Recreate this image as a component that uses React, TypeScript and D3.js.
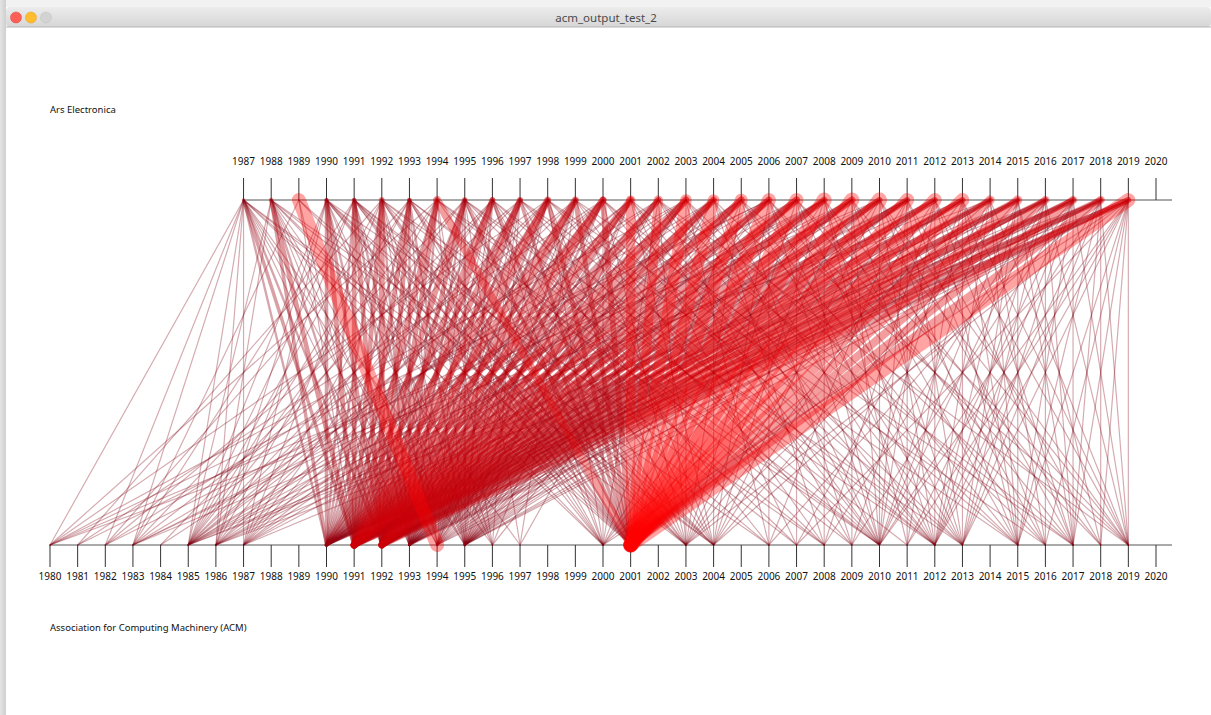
import React from "react";
import * as d3 from "d3";

const windowTitle = "acm_output_test_2";
const topLabel = "Ars Electronica";
const bottomLabel = "Association for Computing Machinery (ACM)";

const topYears = [1987,1988,1989,1990,1991,1992,1993,1994,1995,1996,1997,1998,1999,2000,2001,2002,2003,2004,2005,2006,2007,2008,2009,2010,2011,2012,2013,2014,2015,2016,2017,2018,2019,2020];
const bottomYears = [1980,1981,1982,1983,1984,1985,1986,1987,1988,1989,1990,1991,1992,1993,1994,1995,1996,1997,1998,1999,2000,2001,2002,2003,2004,2005,2006,2007,2008,2009,2010,2011,2012,2013,2014,2015,2016,2017,2018,2019,2020];

// [Ars Electronica year, [[ACM year, weight], ...]]
const linkGroups: [number, [number, number][]][] = [
  [1987, [[1980,1],[1982,1],[1983,1],[1985,1],[1986,1],[1987,1],[1990,2],[1991,3],[1992,2],[1993,1],[1994,1],[1995,1],[1996,1],[2000,1],[2001,1],[2003,1],[2004,1]]],
  [1988, [[1985,1],[1986,1],[1990,3],[1991,4],[1992,2],[1993,1],[1994,1],[1995,1],[1997,1],[2000,1],[2001,1],[2004,1],[2006,1]]],
  [1989, [[1983,1],[1991,1],[1992,1],[1994,12],[2001,1],[2003,1]]],
  [1990, [[1985,1],[1986,1],[1987,1],[1990,3],[1991,4],[1992,3],[1993,2],[1995,1],[1996,1],[2000,1],[2001,2],[2003,1],[2004,1],[2008,1]]],
  [1991, [[1983,1],[1985,1],[1986,1],[1990,2],[1991,4],[1992,4],[1993,2],[1994,2],[1995,1],[2000,1],[2001,2],[2003,1],[2004,1],[2006,1],[2007,1]]],
  [1992, [[1981,1],[1985,1],[1987,1],[1990,2],[1991,4],[1992,5],[1993,2],[1994,1],[1995,1],[1996,1],[2000,1],[2001,2],[2004,1],[2008,1],[2010,1]]],
  [1993, [[1982,1],[1985,1],[1986,1],[1990,2],[1991,4],[1992,4],[1993,2],[1994,1],[1995,2],[2000,1],[2001,2],[2003,1],[2009,1],[2010,1]]],
  [1994, [[1980,1],[1985,1],[1987,1],[1990,2],[1991,5],[1992,4],[1993,2],[1995,1],[1996,1],[2001,7],[2003,1],[2007,1],[2010,1],[2012,1]]],
  [1995, [[1983,1],[1985,1],[1990,2],[1991,5],[1992,4],[1993,2],[1994,1],[1995,2],[1997,1],[2000,1],[2001,3],[2004,1],[2008,1],[2011,1],[2013,1]]],
  [1996, [[1984,1],[1986,1],[1987,1],[1990,2],[1991,5],[1992,5],[1993,1],[1994,1],[1995,2],[2000,1],[2001,3],[2003,1],[2006,1],[2010,1],[2012,1]]],
  [1997, [[1982,1],[1985,1],[1990,3],[1991,5],[1992,5],[1993,2],[1994,1],[1995,1],[1996,1],[2001,3],[2004,1],[2009,1],[2012,1],[2015,1]]],
  [1998, [[1980,1],[1985,1],[1987,1],[1990,3],[1991,6],[1992,5],[1993,2],[1994,2],[1995,1],[2000,1],[2001,4],[2003,1],[2010,1],[2013,1],[2016,1]]],
  [1999, [[1983,1],[1986,1],[1990,2],[1991,6],[1992,5],[1993,2],[1994,1],[1995,2],[1997,1],[2001,4],[2004,1],[2008,1],[2012,1],[2017,1]]],
  [2000, [[1981,1],[1985,1],[1987,1],[1990,3],[1991,6],[1992,6],[1993,2],[1994,2],[1995,1],[2000,1],[2001,5],[2003,1],[2010,1],[2013,1],[2015,1]]],
  [2001, [[1985,1],[1986,1],[1990,2],[1991,6],[1992,5],[1993,2],[1995,2],[1996,1],[2001,8],[2004,1],[2007,1],[2010,1],[2012,1],[2017,1]]],
  [2002, [[1982,1],[1985,1],[1990,2],[1991,5],[1992,5],[1993,1],[1994,1],[1995,1],[2000,1],[2001,8],[2003,1],[2009,1],[2012,1],[2015,1],[2019,1]]],
  [2003, [[1980,1],[1984,1],[1987,1],[1990,2],[1991,6],[1992,6],[1993,2],[1994,2],[1995,1],[2001,10],[2003,1],[2006,1],[2010,1],[2013,1],[2016,1]]],
  [2004, [[1983,1],[1986,1],[1990,3],[1991,6],[1992,5],[1993,2],[1995,2],[1997,1],[2001,10],[2004,1],[2008,1],[2010,1],[2012,1],[2017,1]]],
  [2005, [[1985,1],[1987,1],[1990,2],[1991,6],[1992,6],[1993,1],[1994,1],[1995,1],[2000,1],[2001,11],[2003,1],[2009,1],[2013,1],[2015,1],[2019,1]]],
  [2006, [[1980,1],[1981,1],[1985,1],[1990,2],[1991,6],[1992,5],[1993,2],[1995,1],[1996,1],[2001,12],[2004,1],[2006,1],[2010,1],[2012,1],[2016,1],[2018,1]]],
  [2007, [[1982,1],[1986,1],[1990,2],[1991,6],[1992,6],[1993,2],[1994,1],[1995,2],[2001,12],[2003,1],[2007,1],[2010,1],[2013,1],[2017,1],[2019,1]]],
  [2008, [[1983,1],[1985,1],[1987,1],[1990,3],[1991,6],[1992,5],[1993,1],[1995,1],[2000,1],[2001,13],[2004,1],[2008,1],[2011,1],[2012,1],[2015,1],[2018,1]]],
  [2009, [[1983,1],[1986,1],[1990,2],[1991,6],[1992,6],[1993,2],[1994,1],[1995,1],[2001,13],[2003,1],[2009,1],[2010,1],[2013,1],[2016,1],[2019,1]]],
  [2010, [[1980,1],[1985,1],[1990,2],[1991,5],[1992,5],[1993,1],[1995,2],[2000,1],[2001,13],[2004,1],[2010,1],[2012,1],[2015,1],[2017,1],[2019,1]]],
  [2011, [[1986,1],[1987,1],[1990,2],[1991,5],[1992,5],[1993,2],[1994,1],[1995,1],[2001,12],[2003,1],[2006,1],[2010,1],[2011,1],[2013,1],[2016,1],[2018,1]]],
  [2012, [[1985,1],[1990,2],[1991,5],[1992,5],[1993,1],[1995,1],[2001,12],[2004,1],[2008,1],[2010,1],[2012,1],[2015,1],[2017,1],[2019,1]]],
  [2013, [[1983,1],[1990,2],[1991,5],[1992,5],[1993,1],[1994,1],[1995,1],[2001,12],[2003,1],[2009,1],[2011,1],[2013,1],[2015,1],[2017,1],[2019,1]]],
  [2014, [[1980,1],[1990,2],[1991,5],[1992,4],[1993,1],[1995,1],[2000,1],[2001,8],[2007,1],[2010,1],[2012,1],[2015,1],[2016,1],[2019,1]]],
  [2015, [[1986,1],[1990,2],[1991,5],[1992,4],[1993,1],[1995,1],[2001,8],[2004,1],[2010,1],[2012,1],[2013,1],[2015,1],[2017,1],[2018,1]]],
  [2016, [[1985,1],[1990,2],[1991,5],[1992,4],[1993,1],[1994,1],[2001,7],[2003,1],[2008,1],[2010,1],[2012,1],[2013,1],[2016,1],[2017,1],[2019,1]]],
  [2017, [[1987,1],[1990,2],[1991,5],[1992,5],[1993,1],[1995,1],[2001,7],[2006,1],[2009,1],[2011,1],[2012,1],[2013,1],[2015,1],[2017,1],[2019,1]]],
  [2018, [[1985,1],[1990,2],[1991,5],[1992,4],[1993,1],[1995,1],[2001,7],[2004,1],[2010,1],[2012,1],[2013,1],[2015,1],[2017,1],[2018,1],[2019,1]]],
  [2019, [[1986,1],[1990,2],[1991,5],[1992,5],[1993,2],[1994,1],[1995,1],[2000,1],[2001,12],[2003,1],[2007,1],[2010,1],[2011,1],[2012,1],[2013,1],[2015,1],[2016,1],[2017,1],[2018,1],[2019,1]]],
];

const W = 1211;
const H = 715;
const topY = 200;
const bottomY = 545;
const tickLen = 22;
const font = "'Noto Sans', 'DejaVu Sans', sans-serif";

export default function App() {
  const x = d3.scaleLinear().domain([1980, 2020]).range([50, 1156]);
  const color = d3.scaleLinear<string>().domain([1, 9]).range(["#7e0012", "#ff0000"]).clamp(true);
  const opacity = d3.scaleLinear().domain([1, 4, 12]).range([0.33, 0.4, 0.36]).clamp(true);
  const width = d3.scaleLinear().domain([1, 13]).range([1.2, 15]);

  const links = linkGroups
    .flatMap(([t, targets]) => targets.map(([b, w]) => ({ t, b, w })))
    .sort((a, b) => a.w - b.w);

  return (
    <svg width={W} height={H} style={{ position: "absolute", left: 0, top: 0, background: "#fff" }}>
      <defs>
        <linearGradient id="tb" x1="0" y1="0" x2="0" y2="1">
          <stop offset="0" stopColor="#ececec" />
          <stop offset="1" stopColor="#d6d6d6" />
        </linearGradient>
        <linearGradient id="sh" x1="0" y1="0" x2="1" y2="0">
          <stop offset="0" stopColor="#e4e4e4" />
          <stop offset="1" stopColor="#cfcfcf" />
        </linearGradient>
      </defs>
      <rect x={0} y={0} width={W} height={H} fill="#f2f2f2" />
      <rect x={0} y={0} width={6} height={H} fill="url(#sh)" />
      <rect x={6} y={7} width={W - 6} height={H - 7} fill="#ffffff" />
      <rect x={6} y={7} width={W - 6} height={20} fill="url(#tb)" rx={4} />
      <line x1={6} x2={W} y1={27} y2={27} stroke="#b5b5b5" />
      <circle cx={16} cy={17.5} r={5.5} fill="#fd5f57" stroke="#e0443e" strokeWidth={0.5} />
      <circle cx={31} cy={17.5} r={5.5} fill="#febc2e" stroke="#dea123" strokeWidth={0.5} />
      <circle cx={46} cy={17.5} r={5.5} fill="#d3d3d3" stroke="#c0c0c0" strokeWidth={0.5} />
      <text x={606} y={22} textAnchor="middle" fontFamily={font} fontSize={11.5} fill="#4a4a4a">{windowTitle}</text>

      <text x={50} y={113} fontFamily={font} fontSize={9.5} fill="#111">{topLabel}</text>
      <text x={50} y={631} fontFamily={font} fontSize={9.5} fill="#111">{bottomLabel}</text>

      <line x1={x(1987)} x2={1172} y1={topY} y2={topY} stroke="#555" strokeWidth={1} />
      <line x1={x(1980)} x2={1172} y1={bottomY} y2={bottomY} stroke="#555" strokeWidth={1} />
      {topYears.map((yr) => (
        <g key={"t" + yr}>
          <line x1={x(yr)} x2={x(yr)} y1={topY - tickLen} y2={topY} stroke="#333" strokeWidth={1} />
          <text x={x(yr)} y={165} textAnchor="middle" fontFamily={font} fontSize={10} fill="#111">{yr}</text>
        </g>
      ))}
      {bottomYears.map((yr) => (
        <g key={"b" + yr}>
          <line x1={x(yr)} x2={x(yr)} y1={bottomY} y2={bottomY + tickLen} stroke="#333" strokeWidth={1} />
          <text x={x(yr)} y={580} textAnchor="middle" fontFamily={font} fontSize={10} fill="#111">{yr}</text>
        </g>
      ))}

      <g strokeLinecap="round" fill="none">
        {links.map((l, i) => (
          <line
            key={i}
            x1={x(l.t)}
            y1={topY}
            x2={x(l.b)}
            y2={bottomY}
            stroke={color(l.w)}
            strokeOpacity={opacity(l.w)}
            strokeWidth={width(l.w)}
          />
        ))}
      </g>
    </svg>
  );
}
